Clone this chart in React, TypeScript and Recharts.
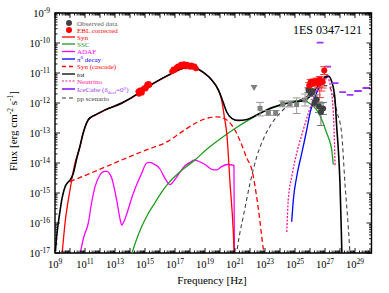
import React from "react";
import {
  ComposedChart,
  Line,
  Scatter,
  XAxis,
  YAxis,
  ErrorBar,
  ReferenceArea,
  Legend,
} from "recharts";

// ---- data (log10 of frequency [Hz], log10 of flux [erg cm^-2 s^-1]) ----
const totPts: [number, number][] = [
  [9.03, -16.95], [9.1, -16.5], [9.22, -16.0], [9.35, -15.55], [9.45, -15.23], [9.55, -15.0],
  [9.67, -14.8], [9.85, -14.65], [10.0, -14.57], [10.22, -14.34], [10.45, -13.85], [10.67, -13.43],
  [10.85, -13.05], [11.0, -12.8], [11.2, -12.57], [11.4, -12.47], [11.67, -12.4], [12.33, -12.23],
  [13.45, -12.0], [14.55, -11.68], [15.0, -11.52], [16.55, -11.07], [17.45, -10.85], [18.0, -10.8],
  [18.3, -10.82], [18.9, -10.98], [19.45, -11.23], [19.9, -11.57], [20.2, -11.96], [20.45, -12.3],
  [20.78, -12.51], [21.2, -12.58], [21.8, -12.55], [22.45, -12.4], [23.1, -12.23], [24.0, -12.07],
  [24.67, -11.99], [25.2, -11.95], [25.55, -11.93], [26.0, -11.78], [26.33, -11.57], [26.67, -11.34],
  [27.0, -11.14], [27.22, -11.1], [27.45, -11.29], [27.67, -11.9], [27.78, -12.79], [27.89, -13.57],
  [28.0, -14.68], [28.11, -16.7], [28.13, -17.1],
];
const synPts: [number, number][] = [
  [9.47, -17.05], [9.67, -16.0], [10.0, -14.9], [10.33, -14.01], [10.67, -13.45], [10.85, -13.07],
  [11.0, -12.82], [11.2, -12.58], [11.4, -12.48], [11.67, -12.41], [12.33, -12.24], [13.45, -12.01],
  [14.55, -11.69], [15.0, -11.53], [16.55, -11.08], [17.45, -10.86], [18.0, -10.81], [18.3, -10.83],
  [18.9, -10.99], [19.45, -11.24], [19.9, -11.58], [20.11, -11.9], [20.3, -12.5], [20.45, -13.01],
  [20.67, -14.68], [20.89, -16.34], [20.95, -17.1],
];
const sscPts: [number, number][] = [
  [14.1, -17.05], [14.4, -16.6], [14.78, -16.12], [15.2, -15.7], [15.67, -15.32], [16.1, -14.98],
  [16.55, -14.68], [17.55, -14.2], [18.33, -13.9], [19.1, -13.55], [20.0, -13.2], [21.0, -12.85],
  [21.89, -12.57], [22.5, -12.4], [23.1, -12.25], [23.78, -12.12], [24.67, -11.97], [25.2, -11.92],
  [25.55, -11.92], [26.0, -12.02], [26.45, -12.23], [26.89, -12.68], [27.11, -13.0], [27.33, -13.3],
  [27.45, -13.57], [27.55, -14.05],
];
const adafPts: [number, number][] = [
  [10.67, -17.05], [10.9, -16.5], [11.22, -16.0], [11.45, -15.3], [11.67, -14.79], [12.0, -14.4],
  [12.3, -14.28], [12.45, -14.28], [12.6, -14.33], [12.78, -14.5], [13.11, -15.23], [13.35, -15.9],
  [13.45, -16.07], [13.6, -15.95], [13.78, -15.7], [14.22, -15.01], [14.78, -14.34], [15.11, -14.0],
  [15.3, -13.98], [15.55, -14.02], [16.0, -14.2], [16.33, -14.51], [16.67, -14.72], [16.89, -14.62],
  [17.2, -14.4], [17.6, -14.12], [18.0, -13.98], [18.3, -13.9], [18.6, -13.95], [19.0, -14.05],
  [19.5, -14.22], [19.78, -14.23], [20.1, -14.12], [20.5, -14.05], [20.93, -14.08], [20.96, -17.1],
];
const pi0Pts: [number, number][] = [
  [24.78, -15.96], [24.89, -15.23], [25.11, -14.46], [25.45, -13.68], [25.78, -12.9], [26.0, -12.34],
  [26.22, -11.95], [26.5, -11.6], [26.78, -11.34], [27.0, -11.18], [27.15, -11.12],
];
const cascadePts: [number, number][] = [
  [10.0, -14.62], [11.22, -14.37], [13.45, -13.9], [15.0, -13.58], [16.55, -13.27], [17.4, -12.98],
  [18.45, -12.65], [19.2, -12.5], [19.8, -12.46], [20.3, -12.52], [20.8, -12.75], [21.33, -13.25],
  [21.8, -13.85], [22.11, -14.2], [22.55, -15.5], [22.9, -16.9], [23.0, -17.2],
];
const neutrinoPts: [number, number][] = [
  [24.45, -16.3], [24.55, -15.23], [24.78, -14.46], [25.11, -13.68], [25.55, -12.9], [25.89, -12.34],
  [26.2, -11.9], [26.6, -11.4], [26.9, -11.15], [27.1, -11.1], [27.3, -11.3], [27.45, -11.7],
  [27.55, -12.3], [27.62, -13.1], [27.67, -14.1],
];
const ppPts: [number, number][] = [
  [21.08, -17.1], [21.3, -16.4], [21.55, -15.79], [22.0, -14.68], [22.45, -13.79], [22.89, -13.2],
  [23.45, -12.68], [24.0, -12.34], [24.45, -12.12], [25.0, -11.95], [25.55, -11.85], [26.2, -11.62],
  [26.7, -11.45], [27.1, -11.42], [27.5, -11.65], [27.8, -12.3], [28.11, -13.01], [28.33, -14.68],
  [28.55, -16.12], [28.68, -17.1],
];
// IceCube upper limits: [from, to, flux]
const iceCubeBins: [number, number, number][] = [
  [26.45, 26.9, -9.99], [26.95, 27.4, -10.79], [27.45, 27.9, -11.34], [27.95, 28.4, -11.64],
  [28.45, 28.9, -11.73], [28.95, 29.45, -11.6], [29.5, 30.0, -11.5],
];
// EBL corrected (red)
const eblLow: [number, number][] = [
  [14.55, -11.62], [14.6, -11.7], [14.65, -11.58], [14.7, -11.65], [14.75, -11.6], [14.8, -11.66],
  [14.85, -11.55], [14.95, -11.5], [15.05, -11.52], [15.1, -11.45], [15.15, -11.38], [15.2, -11.42],
  [15.25, -11.36], [15.3, -11.4],
];
const eblX: [number, number][] = [
  [16.8, -10.95], [16.9, -10.88], [17.0, -10.9], [17.1, -10.82], [17.2, -10.78], [17.3, -10.8],
  [17.4, -10.72], [17.5, -10.76], [17.6, -10.7], [17.7, -10.78], [17.8, -10.72], [17.9, -10.75],
  [18.0, -10.8], [18.1, -10.74], [18.2, -10.8], [18.3, -10.78], [18.4, -10.85],
];
// [x, y, errLow, errHigh]
const eblHigh: [number, number, number, number][] = [
  [25.95, -11.42, 0.1, 0.1], [26.05, -11.3, 0.08, 0.08], [26.15, -11.36, 0.08, 0.08],
  [26.25, -11.28, 0.08, 0.08], [26.35, -11.32, 0.1, 0.1], [26.45, -11.27, 0.1, 0.1],
  [26.55, -11.34, 0.15, 0.1], [26.65, -11.22, 0.6, 0.1], [26.75, -11.3, 0.3, 0.1],
  [26.85, -11.3, 0.2, 0.1], [26.95, -10.92, 0.13, 0.13],
];
const hessObs: [number, number, number, number][] = [
  [25.9, -11.57, 0.08, 0.08], [26.05, -11.68, 0.1, 0.1], [26.18, -11.62, 0.1, 0.1],
  [26.3, -12.0, 0.12, 0.12], [26.45, -11.88, 0.15, 0.15], [26.6, -12.12, 0.2, 0.15],
  [26.73, -12.3, 0.45, 0.3], [26.87, -12.18, 0.2, 0.2],
];
const fermiObs: [number, number, number, number][] = [
  [22.67, -12.18, 0.25, 0.2], [23.22, -12.33, 0.08, 0.08], [23.71, -12.33, 0.08, 0.08],
  [24.18, -12.03, 0.1, 0.1], [24.67, -12.03, 0.1, 0.1], [25.11, -12.05, 0.3, 0.22],
  [25.67, -11.9, 0.2, 0.2],
];
const fermiUL: [number, number][] = [[22.27, -11.5]];

const xDomain: [number, number] = [9, 30.1];
const yDomain: [number, number] = [-17, -9];
const xMajor = Array.from({ length: 22 }, (_, i) => 9 + i);
const yMajor = Array.from({ length: 9 }, (_, i) => -17 + i);
const minorOf = (majors: number[], max: number) => {
  const out: number[] = [];
  majors.forEach((m) => {
    for (let k = 1; k <= 9; k++) {
      const v = m + Math.log10(k);
      if (v <= max + 1e-9) out.push(v);
    }
  });
  return out;
};
const xTicks = minorOf(xMajor, xDomain[1]);
const yTicks = minorOf(yMajor, yDomain[1]);

// ---- layout ----
const W = 389;
const H = 293;
const PL = 55;
const PT = 13;
const PR = 371.5;
const PB = 253;
const FONT = "'Liberation Serif', 'Times New Roman', serif";

const toXY = (a: [number, number][]) => a.map(([x, y]) => ({ x, y }));
const toErr = (a: [number, number, number, number][]) =>
  a.map(([x, y, lo, hi]) => ({ x, y, e: [lo, hi] }));

const iceData: { x: number; y: number | null }[] = [];
iceCubeBins.forEach(([a, b, f]) => {
  iceData.push({ x: a, y: f });
  iceData.push({ x: b, y: f });
  iceData.push({ x: b + 0.01, y: null });
});

const isInt = (v: number) => Math.abs(v - Math.round(v)) < 1e-6;

const XTick = (props: any) => {
  const { x, payload } = props;
  const v = payload.value;
  const major = isInt(v);
  const len = major ? 5 : 2.5;
  const r = Math.round(v);
  return (
    <g>
      <line x1={x} x2={x} y1={PB} y2={PB - len} stroke="#000" strokeWidth={0.9} />
      <line x1={x} x2={x} y1={PT} y2={PT + len} stroke="#000" strokeWidth={0.9} />
      {major && r % 2 === 1 && (
        <text x={x} y={268} textAnchor="middle" fontFamily={FONT} fontSize={10.5} fill="#000">
          10
          <tspan dy={-4.5} fontSize={7.5}>
            {r}
          </tspan>
        </text>
      )}
    </g>
  );
};

const YTick = (props: any) => {
  const { y, payload } = props;
  const v = payload.value;
  const major = isInt(v);
  const len = major ? 5 : 2.5;
  const r = Math.round(v);
  return (
    <g>
      <line x1={PL} x2={PL + len} y1={y} y2={y} stroke="#000" strokeWidth={0.9} />
      <line x1={PR} x2={PR - len} y1={y} y2={y} stroke="#000" strokeWidth={0.9} />
      {major && (
        <text x={50} y={y + 4} textAnchor="end" fontFamily={FONT} fontSize={10.5} fill="#000">
          10
          <tspan dy={-4.5} fontSize={7.5}>
            {String(r)}
          </tspan>
        </text>
      )}
    </g>
  );
};

const legendItems = [
  { name: "Syn", color: "#ff0000", dash: undefined, w: 1.3, y: 37 },
  { name: "SSC", color: "#1f9b1f", dash: undefined, w: 1.3, y: 44 },
  { name: "ADAF", color: "#ff00ff", dash: undefined, w: 1.3, y: 51.5 },
  { name: "pi0", color: "#0000ff", dash: undefined, w: 1.3, y: 59 },
  { name: "Syn (cascade)", color: "#ff0000", dash: "4 3", w: 1.3, y: 66.5 },
  { name: "tot", color: "#000000", dash: undefined, w: 1.3, y: 74 },
  { name: "Neutrino", color: "#ff1493", dash: "2 1.5", w: 1.2, y: 81 },
  { name: "ice", color: "#9933ff", dash: undefined, w: 1.8, y: 89 },
  { name: "pp scenario", color: "#333333", dash: "4 3", w: 1.1, y: 98 },
];

const LegendSvg = () => (
  <svg width={W} height={H} style={{ position: "absolute", left: 0, top: 0, pointerEvents: "none" }}>
    <g fontFamily={FONT} fontSize={7}>
      <circle cx={69} cy={23} r={3} fill="#404040" />
      <text x={77} y={25.5} fill="#555">Observed data</text>
      <circle cx={69} cy={30} r={3} fill="#ff0000" />
      <text x={77} y={32.5} fill="#ff0000">EBL corrected</text>
      {legendItems.map((it) => (
        <g key={it.name}>
          <line x1={62} x2={75} y1={it.y} y2={it.y} stroke={it.color} strokeWidth={it.w} strokeDasharray={it.dash} />
          <text x={77} y={it.y + 2.5} fill={it.color === "#333333" ? "#444" : it.color}>
            {it.name === "pi0" ? (
              <>
                π<tspan dy={-3} fontSize={5}>0</tspan>
                <tspan dy={3}> decay</tspan>
              </>
            ) : it.name === "ice" ? (
              <>
                IceCube (δ<tspan dy={2} fontSize={5}>decl</tspan>
                <tspan dy={-2}>=0°)</tspan>
              </>
            ) : (
              it.name
            )}
          </text>
        </g>
      ))}
    </g>
    <text x={362} y={34} textAnchor="end" fontFamily={FONT} fontSize={12} fill="#000">
      1ES 0347-121
    </text>
    <text x={212} y={284} textAnchor="middle" fontFamily={FONT} fontSize={11} fill="#000">
      Frequency [Hz]
    </text>
    <text
      x={17}
      y={131}
      textAnchor="middle"
      transform="rotate(-90, 17, 131)"
      fontFamily={FONT}
      fontSize={11}
      fill="#000"
    >
      Flux [erg cm<tspan dy={-4} fontSize={7.5}>-2</tspan>
      <tspan dy={4}> s</tspan>
      <tspan dy={-4} fontSize={7.5}>-1</tspan>
      <tspan dy={4}>]</tspan>
    </text>
  </svg>
);

const dot = (color: string, r: number) => (p: any) =>
  p.cx == null ? <g /> : <circle cx={p.cx} cy={p.cy} r={r} fill={color} />;
const square = (color: string) => (p: any) =>
  p.cx == null ? <g /> : <rect x={p.cx - 2.5} y={p.cy - 2.5} width={5} height={5} fill={color} />;
const triDown = (color: string) => (p: any) =>
  p.cx == null ? (
    <g />
  ) : (
    <polygon points={`${p.cx - 3.5},${p.cy - 3} ${p.cx + 3.5},${p.cy - 3} ${p.cx},${p.cy + 3}`} fill={color} />
  );

export default function App() {
  return (
    <div style={{ position: "absolute", left: 0, top: 0, width: W, height: H, background: "#fff" }}>
      <ComposedChart width={W} height={H} margin={{ top: PT, right: W - PR, bottom: 0, left: 0 }}>
        <XAxis
          type="number"
          dataKey="x"
          domain={xDomain}
          ticks={xTicks}
          interval={0}
          allowDataOverflow
          axisLine={false}
          tickLine={false}
          tick={<XTick />}
          height={H - PB}
        />
        <YAxis
          type="number"
          dataKey="y"
          domain={yDomain}
          ticks={yTicks}
          interval={0}
          allowDataOverflow
          axisLine={false}
          tickLine={false}
          tick={<YTick />}
          width={PL}
        />
        <Line data={toXY(adafPts)} dataKey="y" type="monotone" stroke="#ff00ff" strokeWidth={1.3} dot={false} isAnimationActive={false} />
        <Line data={toXY(cascadePts)} dataKey="y" type="monotone" stroke="#ff0000" strokeWidth={1.3} strokeDasharray="5 3" dot={false} isAnimationActive={false} />
        <Line data={toXY(sscPts)} dataKey="y" type="monotone" stroke="#1f9b1f" strokeWidth={1.3} dot={false} isAnimationActive={false} />
        <Line data={toXY(ppPts)} dataKey="y" type="monotone" stroke="#444444" strokeWidth={1.1} strokeDasharray="4 3" dot={false} isAnimationActive={false} />
        <Line data={toXY(neutrinoPts)} dataKey="y" type="monotone" stroke="#ff1493" strokeWidth={1.3} strokeDasharray="2 1.5" dot={false} isAnimationActive={false} />
        <Line data={toXY(pi0Pts)} dataKey="y" type="monotone" stroke="#0000ff" strokeWidth={1.3} dot={false} isAnimationActive={false} />
        <Line data={toXY(synPts)} dataKey="y" type="monotone" stroke="#ff0000" strokeWidth={1.3} dot={false} isAnimationActive={false} />
        <Line data={toXY(totPts)} dataKey="y" type="monotone" stroke="#000000" strokeWidth={1.6} dot={false} isAnimationActive={false} />
        <Line data={iceData} dataKey="y" type="linear" stroke="#9933ff" strokeWidth={1.8} dot={false} connectNulls={false} isAnimationActive={false} />
        <Scatter data={toErr(fermiObs)} dataKey="y" shape={square("#7f7f7f")} isAnimationActive={false}>
          <ErrorBar dataKey="e" direction="y" width={4} stroke="#9a9a9a" strokeWidth={1} />
        </Scatter>
        <Scatter data={toXY(fermiUL)} dataKey="y" shape={triDown("#7f7f7f")} isAnimationActive={false} />
        <Scatter data={toErr(hessObs)} dataKey="y" shape={dot("#404040", 3)} isAnimationActive={false}>
          <ErrorBar dataKey="e" direction="y" width={4} stroke="#777" strokeWidth={1} />
        </Scatter>
        <Scatter data={toErr(eblHigh)} dataKey="y" shape={dot("#ff0000", 3)} isAnimationActive={false}>
          <ErrorBar dataKey="e" direction="y" width={4} stroke="#ff3333" strokeWidth={1} />
        </Scatter>
        <Scatter data={toXY(eblLow)} dataKey="y" shape={dot("#ff0000", 2.8)} isAnimationActive={false} />
        <Scatter data={toXY(eblX)} dataKey="y" shape={dot("#ff0000", 2.8)} isAnimationActive={false} />
        <ReferenceArea x1={xDomain[0]} x2={xDomain[1]} y1={yDomain[0]} y2={yDomain[1]} fill="none" fillOpacity={0} stroke="#000" strokeWidth={1.4} ifOverflow="visible" />
        <Legend
          layout="vertical"
          align="center"
          verticalAlign="middle"
          content={() => <LegendSvg />}
          wrapperStyle={{ left: 0, top: 0, width: W, height: H, pointerEvents: "none" }}
        />
      </ComposedChart>
    </div>
  );
}
